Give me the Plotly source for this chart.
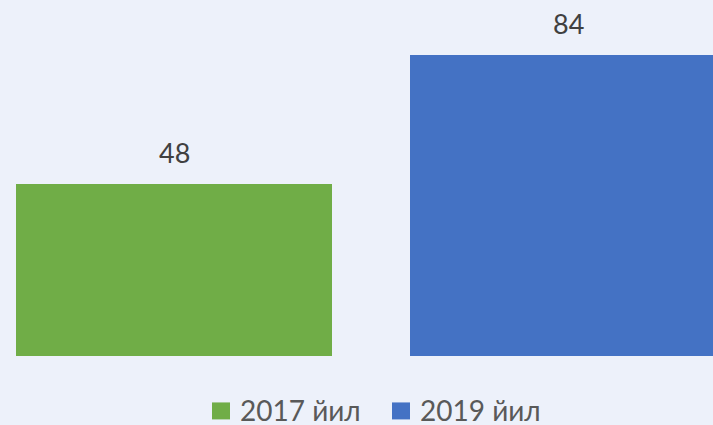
import plotly.graph_objects as go

categories = ["2017 йил", "2019 йил"]
values = [48, 84]
colors = ["#70AD47", "#4472C4"]

bg = "#EDF1FA"
W, H = 713, 425
plot_bottom = 356.5
px_per_unit = 3.59
y_top = plot_bottom / px_per_unit

fig = go.Figure()
fig.add_trace(go.Bar(
    x=[0, 1], y=values, marker=dict(color=colors, line=dict(width=0)),
    width=0.802, showlegend=False, hoverinfo="skip",
))

# value labels above bars
for i, v in enumerate(values):
    fig.add_annotation(x=i, y=v, text=str(v), showarrow=False, xref="x", yref="y",
                       yanchor="bottom", yshift=13,
                       font=dict(family="Lato", size=27, color="#404040"))

# manual legend
ph = plot_bottom
def py(pix):
    return (ph - pix) / ph

legend_x = [212, 392]
for i, name in enumerate(categories):
    x0 = legend_x[i]
    fig.add_shape(type="rect", xref="paper", yref="paper",
                  x0=x0 / W, x1=(x0 + 18) / W, y0=py(420), y1=py(403),
                  fillcolor=colors[i], line=dict(width=0))
    fig.add_annotation(x=(x0 + 26) / W, y=py(411), xref="paper", yref="paper",
                       text=name, showarrow=False, xanchor="left", yanchor="middle",
                       font=dict(family="Lato", size=28, color="#595959"))

fig.update_layout(
    width=W, height=H,
    margin=dict(l=0, r=0, t=0, b=H - plot_bottom, pad=0),
    paper_bgcolor=bg, plot_bgcolor=bg,
    xaxis=dict(range=[-174 / 394, (713 - 174) / 394], visible=False, fixedrange=True),
    yaxis=dict(range=[0, y_top], visible=False, fixedrange=True),
    bargap=0,
)

fig.write_html(
    "out.html",
    config={"displayModeBar": False},
    post_script="document.body.style.margin='0';document.body.style.overflow='hidden';",
)
